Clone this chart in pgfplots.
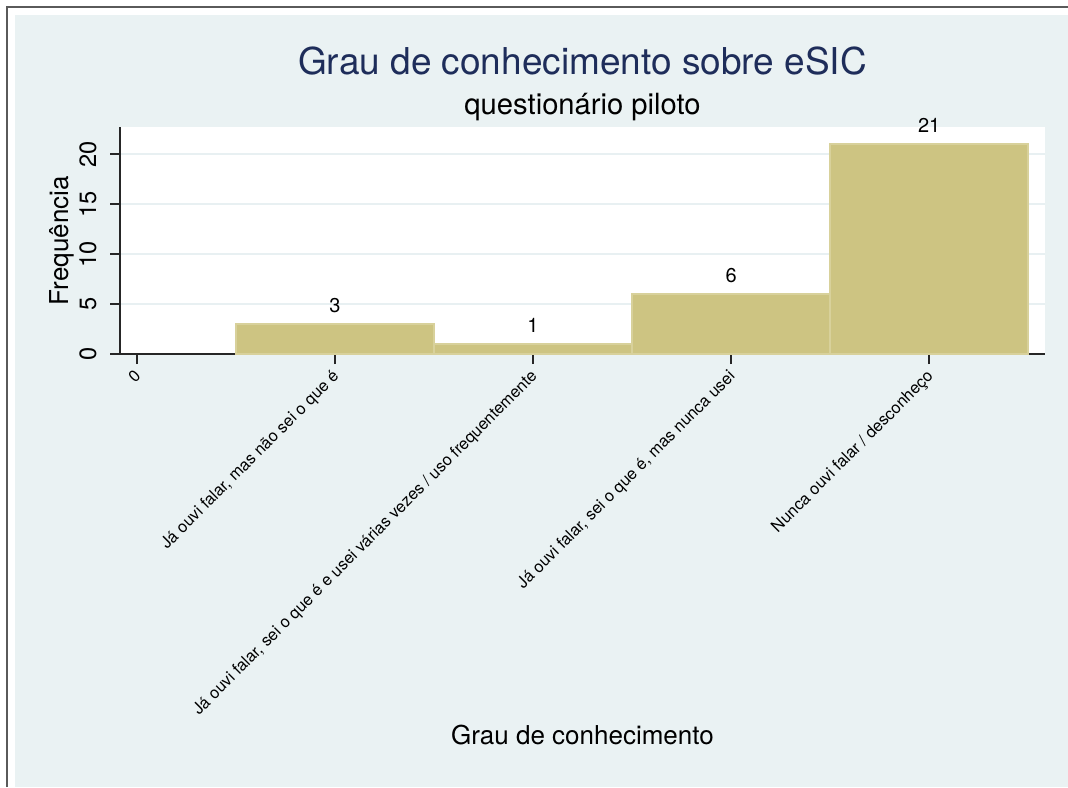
\documentclass[border=0pt]{standalone}
\usepackage{fontspec}
\setmainfont{TeX Gyre Heros}
\usepackage{pgfplots}
\pgfplotsset{compat=1.18}
\definecolor{bgcol}{RGB}{234,242,243}
\definecolor{gridcol}{RGB}{232,240,242}
\definecolor{barfill}{RGB}{205,196,130}
\definecolor{baredge}{RGB}{216,209,155}
\definecolor{titlecol}{RGB}{30,45,90}
\definecolor{framecol}{RGB}{90,90,90}

\begin{document}
\begin{tikzpicture}
\useasboundingbox (0,0) rectangle (534pt,-393.5pt);
% graph region, 1px = 0.5pt
\begin{scope}[x=0.5pt,y=-0.5pt]
\fill[white] (0,0) rectangle (1068,787);
\fill[bgcol] (15,15) rectangle (1068,787);
\draw[framecol,line width=1pt] (7,787) -- (7,7) -- (1068,7);
\end{scope}
\begin{axis}[
  at={(60pt,-177pt)}, anchor=south west,
  scale only axis, width=462.5pt, height=113.35pt,
  clip=false,
  axis background/.style={fill=white},
  xmin=-0.085, xmax=4.585, ymin=0, ymax=22.67,
  axis x line*=bottom, axis y line*=left,
  axis line style={-, line width=0.75pt, black!85},
  tick style={line width=0.75pt, black!85},
  tick align=outside, major tick length=5pt,
  xtick={0,1,2,3,4},
  xticklabels={0,
    {Já ouvi falar, mas não sei o que é},
    {Já ouvi falar, sei o que é e usei várias vezes / uso frequentemente},
    {Já ouvi falar, sei o que é, mas nunca usei},
    {Nunca ouvi falar / desconheço}},
  xticklabel style={xshift=2.5pt, yshift=-6.5pt, rotate=45, anchor=base east, inner sep=0pt, font=\fontsize{8.2}{9}\selectfont},
  ytick={0,5,10,15,20},
  yticklabel style={xshift=-7pt, rotate=90, anchor=base, inner sep=0pt, font=\fontsize{11.8}{13}\selectfont},
  /pgf/number format/assume math mode=true,
  ymajorgrids, major grid style={gridcol, line width=1pt},
  title={Grau de conhecimento sobre eSIC},
  every axis title/.style={at={(axis description cs:0.5,1.2351)}, anchor=base, font=\fontsize{18.5}{20}\selectfont, text=titlecol},
  xlabel={Grau de conhecimento},
  every axis x label/.style={at={(axis description cs:0.5,-1.7203)}, anchor=base, font=\fontsize{13}{14}\selectfont},
  ylabel={Frequência},
  every axis y label/.style={at={(axis description cs:-0.0562,0.5)}, rotate=90, anchor=base, font=\fontsize{13}{14}\selectfont},
  ybar, bar width=1,
  nodes near coords,
  every node near coord/.append style={anchor=base, yshift=5.8pt, font=\fontsize{10}{11}\selectfont, text=black},
]
\addplot[fill=barfill, draw=baredge, line width=1pt] coordinates {(1,3) (2,1) (3,6) (4,21)};
\node[anchor=base, font=\fontsize{14.6}{16}\selectfont] at (axis description cs:0.5,1.0544) {questionário piloto};
\end{axis}
\end{tikzpicture}
\end{document}
